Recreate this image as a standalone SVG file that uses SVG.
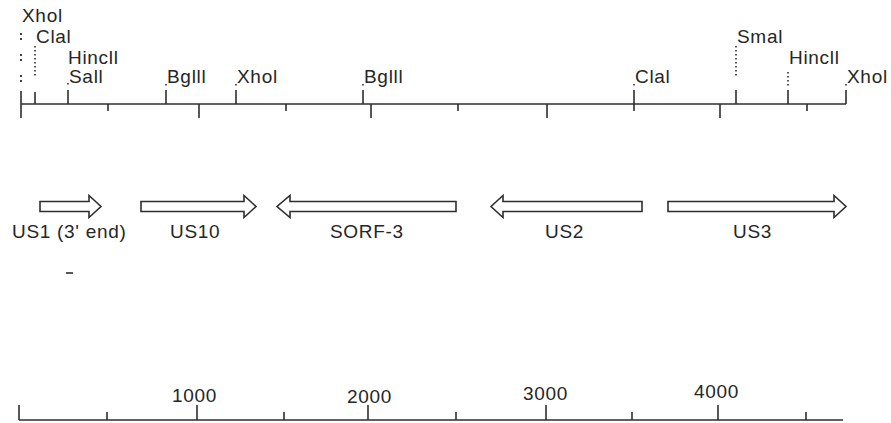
<svg xmlns="http://www.w3.org/2000/svg" width="891" height="423" viewBox="0 0 891 423">
  <style>
    .bg { fill: #ffffff; }
    .lbl { font-family: "Liberation Sans", Arial, sans-serif; font-size: 19px; letter-spacing: 0.7px; fill: #262626; }
    .axis { stroke: #2e2e2e; stroke-width: 1.6; fill: none; }
    .tick { stroke: #2e2e2e; stroke-width: 1.6; }
    .dots { stroke: #2e2e2e; stroke-width: 1.6; stroke-dasharray: 1.6 2.4; }
    .colons { stroke: #2e2e2e; stroke-width: 1.8; stroke-dasharray: 2 3 2 14; }
    .gene { fill: #ffffff; stroke: #2e2e2e; stroke-width: 1.6; stroke-linejoin: miter; }
  </style>

  <rect class="bg" x="0" y="0" width="891" height="423"/>

  <!-- restriction map axis and sub-ticks -->
  <g id="connectors">
    <line class="axis" x1="21" y1="104" x2="846" y2="104"/>
    <g id="map-ticks">
      <line class="tick" x1="21" y1="91" x2="21" y2="118"/>
      <line class="tick" x1="108" y1="104" x2="108" y2="111"/>
      <line class="tick" x1="199" y1="104" x2="199" y2="118"/>
      <line class="tick" x1="286" y1="104" x2="286" y2="111"/>
      <line class="tick" x1="371" y1="104" x2="371" y2="118"/>
      <line class="tick" x1="458" y1="104" x2="458" y2="111"/>
      <line class="tick" x1="547" y1="104" x2="547" y2="118"/>
      <line class="tick" x1="634" y1="104" x2="634" y2="111"/>
      <line class="tick" x1="720" y1="104" x2="720" y2="118"/>
      <line class="tick" x1="807" y1="104" x2="807" y2="111"/>
    </g>

    <!-- bp scale bar -->
    <g id="scale-bar">
      <line class="axis" x1="19" y1="420" x2="843" y2="420"/>
      <line class="tick" x1="19" y1="405" x2="19" y2="420"/>
      <line class="tick" x1="107" y1="412" x2="107" y2="420"/>
      <line class="tick" x1="197" y1="405" x2="197" y2="420"/>
      <line class="tick" x1="284" y1="412" x2="284" y2="420"/>
      <line class="tick" x1="368" y1="405" x2="368" y2="420"/>
      <line class="tick" x1="456" y1="412" x2="456" y2="420"/>
      <line class="tick" x1="546" y1="405" x2="546" y2="420"/>
      <line class="tick" x1="632" y1="412" x2="632" y2="420"/>
      <line class="tick" x1="718" y1="405" x2="718" y2="420"/>
      <line class="tick" x1="806" y1="412" x2="806" y2="420"/>
    </g>
  </g>

  <!-- restriction sites -->
  <g id="site-xhoi-1">
    <text class="lbl" x="22" y="22">Xhol</text>
    <line class="colons" x1="21" y1="33" x2="21" y2="84"/>
  </g>
  <g id="site-clai-1">
    <text class="lbl" x="36" y="43">Clal</text>
    <line class="dots" x1="35" y1="46" x2="35" y2="77"/>
    <line class="tick" x1="35" y1="92" x2="35" y2="104"/>
  </g>
  <g id="site-hincii-sali">
    <text class="lbl" x="68" y="64">Hincll</text>
    <text class="lbl" x="69" y="83">Sall</text>
    <line class="dots" x1="68" y1="83" x2="68" y2="87"/>
    <line class="tick" x1="68" y1="90" x2="68" y2="104"/>
  </g>
  <g id="site-bglii-1">
    <text class="lbl" x="167" y="83">Bglll</text>
    <line class="dots" x1="166" y1="84" x2="166" y2="87"/>
    <line class="tick" x1="166" y1="90" x2="166" y2="104"/>
  </g>
  <g id="site-xhoi-2">
    <text class="lbl" x="237" y="83">Xhol</text>
    <line class="dots" x1="236" y1="84" x2="236" y2="87"/>
    <line class="tick" x1="236" y1="90" x2="236" y2="104"/>
  </g>
  <g id="site-bglii-2">
    <text class="lbl" x="364" y="83">Bglll</text>
    <line class="dots" x1="363" y1="84" x2="363" y2="87"/>
    <line class="tick" x1="363" y1="90" x2="363" y2="104"/>
  </g>
  <g id="site-clai-2">
    <text class="lbl" x="635" y="83">Clal</text>
    <line class="dots" x1="634" y1="84" x2="634" y2="87"/>
    <line class="tick" x1="634" y1="90" x2="634" y2="104"/>
  </g>
  <g id="site-smai">
    <text class="lbl" x="737" y="43">Smal</text>
    <line class="dots" x1="736" y1="46" x2="736" y2="76"/>
    <line class="tick" x1="736" y1="90" x2="736" y2="104"/>
  </g>
  <g id="site-hincii-2">
    <text class="lbl" x="789" y="64">Hincll</text>
    <line class="dots" x1="788" y1="72" x2="788" y2="86"/>
    <line class="tick" x1="788" y1="90" x2="788" y2="104"/>
  </g>
  <g id="site-xhoi-3">
    <text class="lbl" x="847" y="83">Xhol</text>
    <line class="dots" x1="846" y1="84" x2="846" y2="87"/>
    <line class="tick" x1="846" y1="90" x2="846" y2="104"/>
  </g>

  <!-- open reading frames as block arrows -->
  <g id="gene-us1">
    <path class="gene" d="M40,201.5 H89 V195.5 L101,206.5 L89,217.5 V211.5 H40 Z"/>
    <text class="lbl" x="12" y="238">US1 (3' end)</text>
  </g>
  <g id="gene-us10">
    <path class="gene" d="M141,201.5 H244 V195.5 L256,206.5 L244,217.5 V211.5 H141 Z"/>
    <text class="lbl" x="170" y="238">US10</text>
  </g>
  <g id="gene-sorf3">
    <path class="gene" d="M456,201.5 H290 V195.5 L277,206.5 L290,217.5 V211.5 H456 Z"/>
    <text class="lbl" x="330" y="238">SORF-3</text>
  </g>
  <g id="gene-us2">
    <path class="gene" d="M642,201.5 H503 V195.5 L491,206.5 L503,217.5 V211.5 H642 Z"/>
    <text class="lbl" x="545" y="238">US2</text>
  </g>
  <g id="gene-us3">
    <path class="gene" d="M668,201.5 H834 V195.5 L846,206.5 L834,217.5 V211.5 H668 Z"/>
    <text class="lbl" x="733" y="238">US3</text>
  </g>

  <!-- stray mark -->
  <line class="tick" x1="66" y1="273" x2="73" y2="273"/>

  <!-- scale labels (bp) -->
  <g id="scale-1000"><text class="lbl" x="172" y="402">1000</text></g>
  <g id="scale-2000"><text class="lbl" x="347" y="403">2000</text></g>
  <g id="scale-3000"><text class="lbl" x="523" y="400">3000</text></g>
  <g id="scale-4000"><text class="lbl" x="694" y="398">4000</text></g>
</svg>
